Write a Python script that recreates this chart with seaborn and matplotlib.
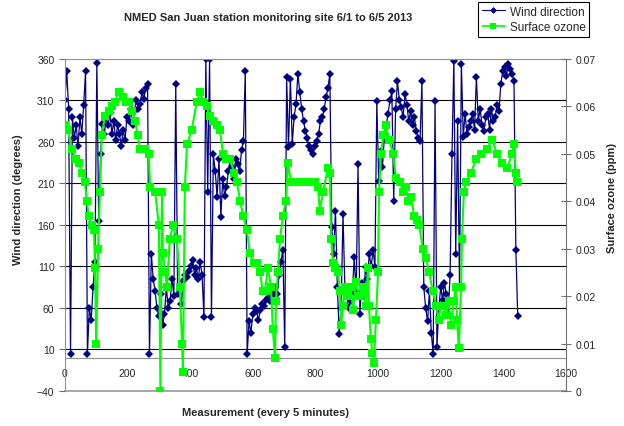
import numpy as np
import matplotlib.pyplot as plt
import seaborn as sns
from matplotlib.lines import Line2D
plt.switch_backend("Agg")

sns.set_style("white")
plt.rcParams["font.family"] = ["Liberation Sans", "DejaVu Sans"]

# wind direction (degrees), one reading kept every 6 measurements
wind_step = 6
wind_dir = [
    310, 345, 300, 5, 290, 265, 280, 255, 290, 270, 305, 345, 5, 60, 45, 85, 115, 355, 165, 245,
    282, 270, 290, 280, 295, 270, 285, 262, 280, 270, 255, 275, 262, 290, 285, 300, 280, 297, 310, 300,
    306, 320, 312, 325, 330, 5, 125, 95, 80, 60, 50, 77, 40, 53, 85, 60, 68, 95, 75, 330,
    77, 85, 65, 92, 100, 97, 105, 110, 118, 100, 108, 95, 115, 100, 49, 360, 200, 360, 49, 245,
    225, 194, 240, 170, 215, 195, 206, 225, 240, 230, 215, 240, 233, 225, 250, 261, 345, 4, 44, 30,
    53, 60, 56, 45, 58, 65, 62, 70, 72, 68, 75, 78, 85, 77, 100, 116, 130, 13, 338, 254,
    336, 258, 290, 306, 342, 320, 300, 285, 273, 265, 255, 250, 245, 255, 261, 270, 285, 290, 300, 314,
    325, 342, 158, 125, 177, 85, 29, 60, 173, 85, 75, 60, 68, 80, 121, 77, 233, 53, 90, 75,
    109, 95, 125, 110, 130, 109, 309, 213, 249, 230, 266, 280, 294, 310, 321, 189, 300, 333, 310, 302,
    290, 318, 305, 285, 297, 280, 290, 273, 265, 261, 333, 85, 60, 44, 80, 30, 4, 309, 13, 60,
    85, 70, 90, 77, 53, 100, 245, 358, 125, 285, 85, 354, 266, 294, 270, 278, 285, 294, 275, 338,
    285, 300, 280, 273, 290, 294, 275, 300, 285, 290, 305, 297, 330, 345, 350, 340, 354, 348, 342, 333,
    130, 50,
]
wind_x = np.arange(len(wind_dir)) * wind_step

# surface ozone (ppm)
ozone_x = [
    0, 10, 22, 35, 45, 55, 64, 70, 76, 85, 93, 96, 100, 106, 112, 118, 128, 140, 150, 160,
    172, 185, 195, 204, 215, 224, 232, 240, 255, 268, 272, 288, 300, 305, 310, 313, 320, 326, 335, 345,
    358, 367, 374, 377, 383, 390, 405, 421, 431, 442, 453, 463, 473, 485, 495, 505, 515, 527, 540, 549,
    560, 569, 581, 591, 603, 613, 623, 632, 639, 648, 658, 664, 671, 674, 680, 687, 696, 706, 712, 722,
    740, 754, 770, 786, 800, 808, 814, 824, 840, 846, 850, 856, 864, 872, 878, 882, 888, 894, 905, 913,
    920, 929, 940, 952, 960, 968, 971, 977, 982, 987, 993, 1000, 1003, 1009, 1017, 1025, 1035, 1048, 1057, 1070,
    1080, 1089, 1097, 1105, 1115, 1125, 1131, 1143, 1153, 1163, 1175, 1185, 1194, 1200, 1207, 1217, 1225, 1233, 1242, 1248,
    1252, 1258, 1265, 1268, 1274, 1281, 1297, 1313, 1329, 1348, 1364, 1380, 1396, 1412, 1428, 1434, 1440, 1444,
]
ozone_ppm = [
    0.056, 0.055, 0.051, 0.049, 0.048, 0.046, 0.044, 0.040, 0.037, 0.035, 0.034, 0.026, 0.010, 0.030, 0.042, 0.054, 0.058, 0.059, 0.060, 0.061,
    0.063, 0.062, 0.061, 0.061, 0.059, 0.057, 0.054, 0.051, 0.051, 0.050, 0.043, 0.042, 0.035, 0.0, 0.042, 0.029, 0.025, 0.022, 0.032, 0.035,
    0.032, 0.022, 0.010, 0.004, 0.043, 0.052, 0.055, 0.061, 0.063, 0.061, 0.060, 0.058, 0.057, 0.056, 0.055, 0.050, 0.049, 0.049, 0.046, 0.044,
    0.040, 0.037, 0.034, 0.029, 0.027, 0.027, 0.025, 0.021, 0.021, 0.026, 0.022, 0.013, 0.007, 0.019, 0.025, 0.032, 0.037, 0.040, 0.048, 0.044,
    0.044, 0.044, 0.044, 0.044, 0.044, 0.043, 0.038, 0.042, 0.047, 0.046, 0.032, 0.027, 0.026, 0.025, 0.021, 0.014, 0.018, 0.022, 0.020, 0.022,
    0.017, 0.023, 0.020, 0.022, 0.018, 0.026, 0.018, 0.011, 0.008, 0.006, 0.015, 0.025, 0.042, 0.050, 0.054, 0.056, 0.053, 0.050, 0.045, 0.044,
    0.042, 0.043, 0.040, 0.041, 0.037, 0.036, 0.035, 0.030, 0.028, 0.025, 0.021, 0.018, 0.015, 0.018, 0.018, 0.016, 0.019, 0.014, 0.019, 0.022,
    0.015, 0.009, 0.022, 0.032, 0.042, 0.044, 0.046, 0.049, 0.050, 0.051, 0.053, 0.050, 0.048, 0.047, 0.050, 0.052, 0.046, 0.044,
]

x_ticks = [0, 200, 400, 600, 800, 1000, 1200, 1400, 1600]
wind_ticks = [-40, 10, 60, 110, 160, 210, 260, 310, 360]
ozone_ticks = [0, 0.01, 0.02, 0.03, 0.04, 0.05, 0.06, 0.07]
ozone_labels = ["0", "0.01", "0.02", "0.03", "0.04", "0.05", "0.06", "0.07"]

fig = plt.figure(figsize=(6.24, 4.27), dpi=100)
ax = fig.add_axes([0.104, 0.082, 0.803, 0.7775])
ax2 = ax.twinx()

for y in wind_ticks[1:-1]:
    ax.axhline(y, color="black", linewidth=0.8, zorder=0)

sns.lineplot(x=wind_x, y=wind_dir, ax=ax, color="#000080", marker="D", markersize=4.3,
             markeredgewidth=0, linewidth=0.9, sort=False, estimator=None)
sns.lineplot(x=ozone_x, y=ozone_ppm, ax=ax2, color="#00ff00", marker="s", markersize=5.5,
             markeredgewidth=0, linewidth=1.5, sort=False, estimator=None)

ax.set_xlim(0, 1600)
ax.set_ylim(-40, 360)
ax.set_xticks(x_ticks)
ax.set_yticks(wind_ticks)
ax.set_xlabel("")
ax.set_ylabel("")
ax.spines["bottom"].set_position(("data", 0))
for s in ["bottom", "left", "top"]:
    ax.spines[s].set_color("#909090")
ax.spines["right"].set_visible(False)
ax.axhline(-40, color="#a8a8a8", linewidth=1.5, clip_on=False, zorder=0)
ax.tick_params(axis="x", direction="inout", length=6, labelsize=7.5, color="#707070", pad=4)
ax.tick_params(axis="y", direction="out", length=4, labelsize=7.5, color="#707070", left=True)

ax2.set_ylim(0, 0.07)
ax2.set_yticks(ozone_ticks)
ax2.set_yticklabels(ozone_labels)
ax2.set_ylabel("")
for s in ["bottom", "left", "top"]:
    ax2.spines[s].set_visible(False)
ax2.spines["right"].set_color("#707070")
ax2.tick_params(axis="y", direction="inout", length=7, labelsize=7.5, color="#707070", right=True)

fig.text(268 / 624, 1 - 18 / 427, "NMED San Juan station monitoring site 6/1 to 6/5 2013",
         ha="center", va="center", fontsize=8, fontweight="bold")
fig.text(265 / 624, 1 - 413 / 427, "Measurement (every 5 minutes)",
         ha="center", va="center", fontsize=8, fontweight="bold")
fig.text(18 / 624, 1 - 200 / 427, "Wind direction (degrees)", rotation=90,
         ha="center", va="center", fontsize=8, fontweight="bold")
fig.text(612 / 624, 1 - 198 / 427, "Surface ozone (ppm)", rotation=90,
         ha="center", va="center", fontsize=8, fontweight="bold")

handles = [
    Line2D([], [], color="#000080", marker="D", markersize=3.5, markeredgewidth=0, linewidth=0.8),
    Line2D([], [], color="#00ff00", marker="s", markersize=4.5, markeredgewidth=0, linewidth=1.2),
]
leg = fig.legend(handles, ["Wind direction", "Surface ozone"], loc="upper left",
                 bbox_to_anchor=(478 / 624, 1 - 3 / 427), frameon=True, fancybox=False,
                 edgecolor="black", fontsize=8.5, borderaxespad=0, handlelength=2,
                 framealpha=1, borderpad=0.3, labelspacing=0.3, handletextpad=0.4)
leg.get_frame().set_linewidth(0.8)

fig.savefig("out.png", dpi=100)
